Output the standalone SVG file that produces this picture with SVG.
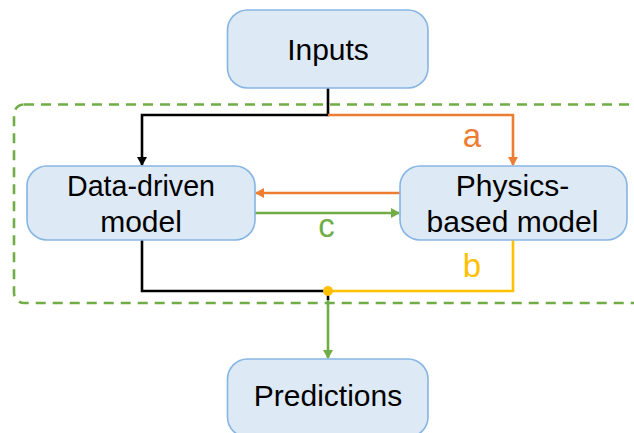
<svg xmlns="http://www.w3.org/2000/svg" width="634" height="433" viewBox="0 0 634 433">
<style>
.box{fill:#DDE9F5;stroke:#86B5E3;stroke-width:1.6}
.t{font-family:"Liberation Sans",Arial,sans-serif;font-size:30px;fill:#000;text-anchor:middle}
.lbl{font-family:"Liberation Sans",Arial,sans-serif;font-size:33px;text-anchor:middle}
.ln{fill:none;stroke-width:2.6}
</style>
<defs>
<marker id="ak" markerWidth="10" markerHeight="10" refX="8" refY="5" orient="auto" markerUnits="userSpaceOnUse"><path d="M0,0 L9,5 L0,10 Z" fill="#000"/></marker>
<marker id="ao" markerWidth="10" markerHeight="10" refX="8" refY="5" orient="auto" markerUnits="userSpaceOnUse"><path d="M0,0 L9,5 L0,10 Z" fill="#ED7D31"/></marker>
<marker id="ag" markerWidth="10" markerHeight="10" refX="8" refY="5" orient="auto" markerUnits="userSpaceOnUse"><path d="M0,0 L9,5 L0,10 Z" fill="#70AD47"/></marker>
</defs>
<rect x="14" y="104.5" width="640" height="198.5" rx="10" fill="none" stroke="#70AD47" stroke-width="2.6" stroke-dasharray="10 7"/>
<g id="connectors">
<path class="ln" d="M328,88 V115 H142 V165" stroke="#000" marker-end="url(#ak)"/>
<path class="ln" d="M328,115 H513 V165" stroke="#ED7D31" marker-end="url(#ao)"/>
<path class="ln" d="M400,193 H256" stroke="#ED7D31" marker-end="url(#ao)"/>
<path class="ln" d="M255,213 H399" stroke="#70AD47" marker-end="url(#ag)"/>
<path class="ln" d="M142,240 V291 H328 V300" stroke="#000"/>
<path class="ln" d="M513,240 V291 H328" stroke="#FFC000"/>
<path class="ln" d="M328,300 V358" stroke="#70AD47" marker-end="url(#ag)"/>
<circle cx="328" cy="291" r="5" fill="#FFC000"/>
<text class="lbl" x="472" y="147" fill="#ED7D31">a</text>
<text class="lbl" x="326.5" y="237" fill="#70AD47">c</text>
<text class="lbl" x="472" y="277" fill="#FFC000">b</text>
</g>
<g id="inputs">
<rect class="box" x="227.5" y="10" width="200.5" height="78" rx="20"/>
<text class="t" x="328" y="60">Inputs</text>
</g>
<g id="data-driven">
<rect class="box" x="27" y="166" width="228" height="74" rx="20"/>
<text class="t" x="141" y="196" textLength="148" lengthAdjust="spacingAndGlyphs">Data-driven</text>
<text class="t" x="141" y="232">model</text>
</g>
<g id="physics">
<rect class="box" x="400" y="166" width="227" height="74" rx="20"/>
<text class="t" x="512.5" y="196">Physics-</text>
<text class="t" x="512.5" y="232">based model</text>
</g>
<g id="predictions">
<rect class="box" x="227.5" y="359" width="200.5" height="78" rx="20"/>
<text class="t" x="328" y="406">Predictions</text>
</g>
</svg>
